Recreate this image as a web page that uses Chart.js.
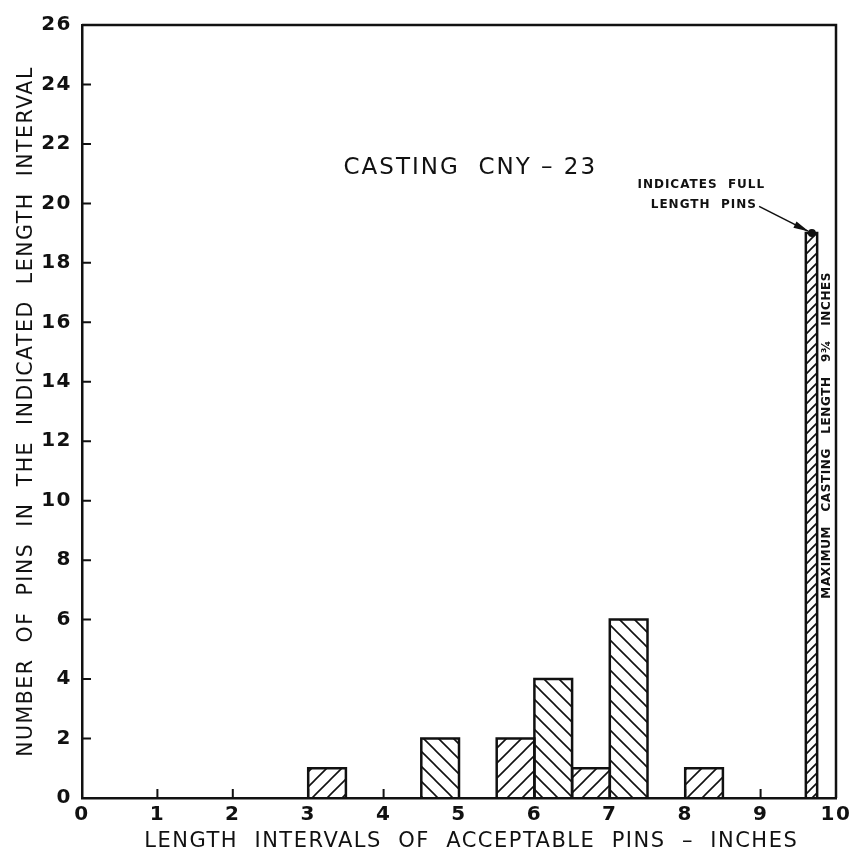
<!DOCTYPE html>
<html>
<head>
<meta charset="utf-8">
<script src="https://cdn.jsdelivr.net/npm/chart.js@4"></script>
<style>
    html, body { margin: 0; padding: 0; background: #fff; }
    #wrap { width: 850px; height: 857px; }
</style>
</head>
<body>
<div id="wrap"><canvas id="grafico"></canvas></div>
<script>
// ==========================================
// Casting CNY-23 - pin length histogram
// ==========================================

// length intervals (inches) and number of pins in each
const binStart  = [3, 4.5, 5.5, 6, 6.5, 7, 8, 9.6];
const binEnd    = [3.5, 5, 6, 6.5, 7, 7.5, 8.5, 9.75];
const pinCounts = [1, 2, 2, 4, 1, 6, 1, 19];

const xTickValues = [0, 1, 2, 3, 4, 5, 6, 7, 8, 9, 10];
const yTickValues = [0, 2, 4, 6, 8, 10, 12, 14, 16, 18, 20, 22, 24, 26];

// hatch direction per bar (style only)
const hatchDir = ["/", "\\", "/", "\\", "/", "\\", "/", "/"];

const INK = "#111";
const FONT = "'DejaVu Sans', sans-serif";

function makeHatch(dir, size) {
    const c = document.createElement("canvas");
    c.width = size;
    c.height = size;
    const g = c.getContext("2d");
    g.strokeStyle = INK;
    g.lineWidth = 1.6;
    g.beginPath();
    if (dir === "/") {
        g.moveTo(-2, size + 2); g.lineTo(size + 2, -2);
        g.moveTo(-2, 2); g.lineTo(2, -2);
        g.moveTo(size - 2, size + 2); g.lineTo(size + 2, size - 2);
    } else {
        g.moveTo(-2, -2); g.lineTo(size + 2, size + 2);
        g.moveTo(size - 2, -2); g.lineTo(size + 2, 2);
        g.moveTo(-2, size - 2); g.lineTo(2, size + 2);
    }
    g.stroke();
    return g.createPattern(c, "repeat");
}

const datasets = pinCounts.map((n, i) => ({
    data: [
        { x: binStart[i], y: 0 },
        { x: binStart[i], y: n },
        { x: binEnd[i], y: n },
        { x: binEnd[i], y: 0 }
    ],
    borderColor: INK,
    borderWidth: 2.5,
    backgroundColor: makeHatch(hatchDir[i], i === 7 ? 10 : 15),
    fill: "origin",
    tension: 0,
    pointRadius: 0
}));

// wider lettering, like the stencilled original
const spacing = {
    id: "spacing",
    beforeDraw(chart) {
        chart.ctx.letterSpacing = "1.5px";
    }
};

// frame, inward ticks and lettering
const extras = {
    id: "extras",
    afterDatasetsDraw(chart) {
        const { ctx, chartArea: a, scales: { x, y } } = chart;
        ctx.save();
        ctx.strokeStyle = INK;
        ctx.fillStyle = INK;
        ctx.lineWidth = 2.5;

        // top and right border
        ctx.beginPath();
        ctx.moveTo(a.left, a.top);
        ctx.lineTo(a.right, a.top);
        ctx.lineTo(a.right, a.bottom);
        ctx.stroke();

        // ticks pointing into the plot
        ctx.lineWidth = 2;
        ctx.beginPath();
        yTickValues.forEach(v => {
            const py = y.getPixelForValue(v);
            ctx.moveTo(a.left, py);
            ctx.lineTo(a.left + 9, py);
        });
        xTickValues.forEach(v => {
            const px = x.getPixelForValue(v);
            ctx.moveTo(px, a.bottom);
            ctx.lineTo(px, a.bottom - 9);
        });
        ctx.stroke();

        // chart caption
        ctx.letterSpacing = "2px";
        ctx.font = "23px " + FONT;
        ctx.textAlign = "center";
        ctx.textBaseline = "middle";
        ctx.fillText("CASTING  CNY – 23", x.getPixelForValue(5.15), y.getPixelForValue(21.2));

        // full length pins note
        ctx.letterSpacing = "1px";
        ctx.font = "bold 12px " + FONT;
        ctx.textAlign = "right";
        ctx.fillText("INDICATES  FULL", x.getPixelForValue(9.06), y.getPixelForValue(20.62));
        ctx.fillText("LENGTH  PINS", x.getPixelForValue(8.95), y.getPixelForValue(19.95));

        const dx = x.getPixelForValue(9.68), dy = y.getPixelForValue(19);
        const sx = x.getPixelForValue(8.98), sy = y.getPixelForValue(19.9);
        ctx.lineWidth = 1.6;
        ctx.beginPath();
        ctx.moveTo(sx, sy);
        ctx.lineTo(dx - 4, dy - 2);
        ctx.stroke();
        const ang = Math.atan2(dy - sy, dx - sx);
        ctx.beginPath();
        ctx.moveTo(dx - 3, dy - 1.5);
        ctx.lineTo(dx - 3 - 16 * Math.cos(ang - 0.22), dy - 1.5 - 16 * Math.sin(ang - 0.22));
        ctx.lineTo(dx - 3 - 16 * Math.cos(ang + 0.22), dy - 1.5 - 16 * Math.sin(ang + 0.22));
        ctx.closePath();
        ctx.fill();
        ctx.beginPath();
        ctx.arc(dx, dy, 4, 0, Math.PI * 2);
        ctx.fill();

        // maximum casting length, written up the bar
        ctx.translate(x.getPixelForValue(9.88), y.getPixelForValue(12.2));
        ctx.rotate(-Math.PI / 2);
        ctx.letterSpacing = "0.6px";
        ctx.font = "bold 12px " + FONT;
        ctx.textAlign = "center";
        ctx.fillText("MAXIMUM   CASTING   LENGTH   9¾   INCHES", 0, 0);

        ctx.restore();
    }
};

const ctx = document.getElementById("grafico");

new Chart(ctx, {
    type: "line",
    data: { datasets: datasets },
    options: {
        responsive: true,
        maintainAspectRatio: false,
        animation: false,
        layout: {
            padding: { left: 0, top: 25, right: 14, bottom: 0 }
        },
        plugins: {
            legend: { display: false },
            tooltip: { enabled: false }
        },
        scales: {
            x: {
                type: "linear",
                min: 0,
                max: 10,
                afterBuildTicks: s => { s.ticks = xTickValues.map(v => ({ value: v })); },
                afterFit: s => { s.height = 59; s.paddingLeft = 0; s.paddingRight = 0; },
                grid: { display: false, drawTicks: false },
                border: { display: true, color: INK, width: 2.5 },
                ticks: {
                    color: INK,
                    padding: 5,
                    maxRotation: 0,
                    font: { family: FONT, size: 20, weight: "bold" }
                },
                title: {
                    display: true,
                    text: "   LENGTH  INTERVALS  OF  ACCEPTABLE  PINS  –  INCHES",
                    color: INK,
                    padding: { top: 0, bottom: 3 },
                    font: { family: FONT, size: 21 }
                }
            },
            y: {
                min: 0,
                max: 26,
                afterBuildTicks: s => { s.ticks = yTickValues.map(v => ({ value: v })); },
                afterFit: s => { s.width = 82; },
                grid: { display: false, drawTicks: false },
                border: { display: true, color: INK, width: 2.5 },
                ticks: {
                    color: INK,
                    padding: 10,
                    font: { family: FONT, size: 20, weight: "bold" }
                },
                title: {
                    display: true,
                    text: "NUMBER  OF  PINS  IN  THE  INDICATED  LENGTH  INTERVAL",
                    color: INK,
                    padding: { top: 14, bottom: 0 },
                    font: { family: FONT, size: 20.5 }
                }
            }
        }
    },
    plugins: [spacing, extras]
});
</script>
</body>
</html>
